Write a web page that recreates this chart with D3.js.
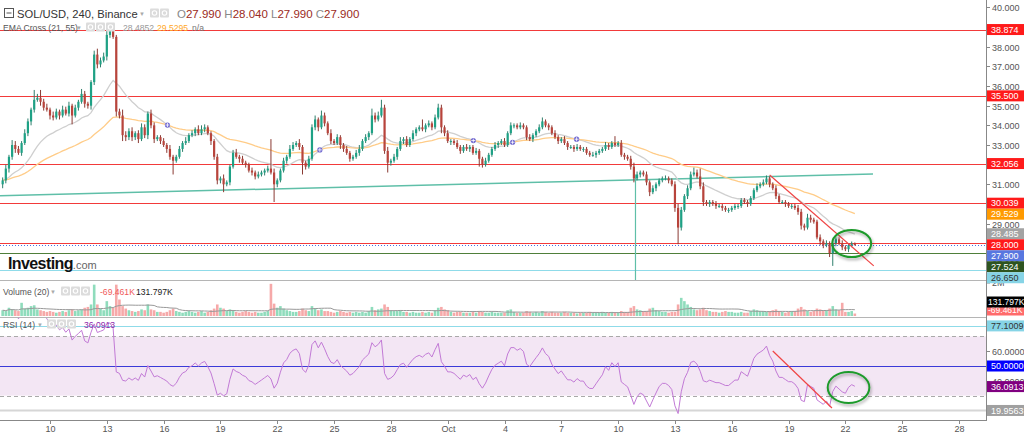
<!DOCTYPE html>
<html>
<head>
<meta charset="utf-8">
<script src="https://cdnjs.cloudflare.com/ajax/libs/d3/7.8.5/d3.min.js"></script>
<style>
  body { margin: 0; background: #fff; }
  svg { display: block; font-family: "Liberation Sans", Arial, sans-serif; }
</style>
</head>
<body>
<div id="chart"></div>
<script>
// SOL/USD 4h candles, Sep 7 12:00 -> Oct 22 12:00 (UTC), open = previous close
const closes = [
  31.2, 31.8, 32.4, 33.0, 32.8, 32.6, 33.1, 33.6, 34.2, 34.8,
  35.3, 35.4, 35.2, 34.9, 34.8, 34.5, 34.4, 34.7, 34.5, 34.8,
  34.6, 35.0, 34.5, 34.9, 35.2, 35.6, 35.1, 35.0, 36.2, 37.6,
  37.1, 37.3, 37.5, 38.6, 38.8, 38.5, 34.7, 34.5, 33.5, 33.4,
  33.7, 33.4, 33.6, 33.3, 33.9, 33.5, 34.6, 34.0, 33.3, 33.4,
  33.2, 33.0, 32.8, 32.4, 32.2, 32.4, 32.8, 33.1, 33.2, 33.5,
  33.6, 33.8, 33.6, 33.8, 33.9, 33.6, 33.2, 32.4, 31.2, 31.3,
  31.0, 31.1, 31.9, 32.6, 32.4, 32.3, 32.1, 32.0, 31.7, 31.6,
  31.4, 31.5, 31.6, 31.7, 31.8, 31.6, 31.0, 31.2, 31.7, 32.2,
  32.4, 32.8, 33.0, 33.1, 32.9, 32.1, 31.9, 32.3, 33.9, 34.3,
  33.9, 34.5, 34.1, 33.6, 33.2, 33.1, 33.4, 33.0, 32.8, 32.6,
  32.3, 32.4, 32.6, 32.8, 33.2, 33.4, 33.6, 34.5, 34.3, 34.5,
  34.9, 32.7, 32.1, 32.2, 32.4, 32.8, 33.2, 33.3, 33.0, 33.3,
  33.6, 33.8, 33.9, 33.8, 34.0, 34.1, 33.9, 34.4, 34.9, 33.9,
  33.6, 33.2, 33.2, 33.1, 32.9, 32.7, 32.9, 32.8, 32.9, 32.6,
  32.7, 32.3, 32.0, 32.2, 32.5, 32.8, 33.0, 33.1, 33.2, 33.0,
  33.6, 34.0, 34.0, 33.9, 34.0, 33.9, 33.4, 33.3, 33.5, 33.7,
  33.9, 34.2, 34.0, 33.9, 33.6, 33.4, 33.2, 33.3, 33.1, 32.9,
  32.9, 32.8, 32.9, 32.8, 32.8, 32.6, 32.5, 32.5, 32.6, 32.7,
  32.8, 33.0, 32.9, 33.1, 33.0, 33.1, 32.5, 32.4, 32.3, 31.9,
  31.3, 31.5, 31.6, 31.5, 31.1, 30.6, 30.8, 31.0, 31.2, 31.3,
  31.3, 31.2, 31.0, 29.8, 28.8, 29.7, 30.4, 30.8, 31.5, 31.6,
  31.4, 30.9, 30.1, 30.0, 30.1, 30.0, 29.9, 29.9, 29.8, 29.7,
  29.7, 29.8, 29.9, 29.9, 30.2, 30.1, 30.0, 30.3, 30.7, 30.9,
  31.0, 31.1, 31.3, 31.0, 30.8, 30.4, 30.1, 30.1, 30.0, 29.9,
  29.9, 29.8, 29.6, 28.9, 28.8, 29.3, 29.2, 29.1, 28.3, 28.1,
  27.9, 28.0, 27.5, 28.0, 28.2, 28.0, 27.8, 27.7, 27.9, 27.99,
  27.9
]
// wick length above / below the body
const wickHi = [
  .15,.2,.1,.25,.2,.15,.1,.2,.15,.1, .5,.2,.4,.15,.2,.1,.2,.15,.1,.2,
  .15,.2,.1,.15,.1,.25,.15,.1,.1,.2, .3,.15,.2,.25,.07,.1,.1,.15,.3,.2,
  .15,.2,.1,.15,.2,.15,.1,.2,.15,.1, .1,.15,.1,.2,.1,.1,.15,.1,.2,.1,
  .15,.1,.2,.2,.15,.1,.1,.1,.15,.1, .2,.1,.1,.15,.2,.1,.15,.1,.1,.15,
  .1,.15,.1,.1,.15,1.5,.2,.1,.1,.15, .1,.2,.15,.1,.2,.1,.1,.15,.15,.2,
  .1,.25,.15,.1,.2,.1,.15,.1,.1,.15, .1,.1,.15,.2,.1,.15,.1,.35,.15,.2,
  .4,.15,.2,.1,.15,.1,.2,.1,.15,.1, .15,.1,.1,.4,.1,.15,.1,.15,.2,.15,
  .1,.15,.1,.1,.15,.1,.1,.15,.1,.1, .15,.1,.1,.15,.1,.1,.15,.1,.1,.15,
  .1,.15,.1,.1,.15,.1,.1,.15,.1,.1, .15,.2,.1,.1,.1,.15,.1,.1,.15,.1,
  .1,.1,.15,.1,.1,.1,.1,.15,.1,.1, .1,.15,.1,.1,.35,.1,.15,.1,.1,.15,
  .2,.15,.1,.1,.15,.1,.15,.1,.1,.1, .15,.1,.1,.15,.2,.15,.1,.15,.15,.25,
  .15,.4,.2,.1,.1,.1,.15,.1,.1,.1, .1,.1,.1,.1,.1,.1,.1,.1,.1,.15,
  .1,.15,.15,.1,.1,.15,.1,.1,.1,.1, .1,.1,.15,.15,.1,.2,.15,.1,.1,.15,
  .1,.15,.1,.15,.1,.1,.15,.1,.1,.1, .05
]
const wickLo = [
  .2,.15,.2,.15,.2,.1,.15,.1,.15,.2, .15,.1,.2,.15,.1,.2,.15,.1,.2,.1,
  .1,.15,.45,.1,.15,.1,.2,.15,.2,.15, .2,.15,.1,.2,.15,.1,.25,.15,.3,.2,
  .15,.2,.15,.2,.1,.15,.2,.15,.2,.1, .15,.1,.2,.15,.7,.1,.1,.15,.1,.1,
  .1,.15,.1,.1,.15,.1,.2,.15,.2,.15, .4,.1,.15,.1,.1,.2,.1,.15,.1,.15,
  .15,.1,.1,.15,.1,.1,.9,.15,.1,.1, .15,.1,.1,.1,.15,.6,.15,.1,.1,.15,
  .2,.1,.15,.1,.15,.1,.1,.2,.15,.1, .15,.1,.1,.15,.1,.1,.15,.1,.15,.1,
  .1,.15,.5,.15,.1,.15,.1,.15,.1,.1, .1,.15,.1,.1,.15,.1,.15,.1,.1,.3,
  .15,.1,.2,.1,.1,.15,.1,.1,.15,.1, .1,.4,.15,.1,.1,.1,.1,.15,.1,.1,
  .1,.1,.15,.1,.1,.1,.15,.1,.15,.1, .1,.1,.1,.15,.1,.1,.15,.1,.1,.15,
  .1,.15,.1,.1,.15,.1,.1,.1,.15,.1, .1,.1,.15,.1,.1,.1,.1,.15,.1,.15,
  .2,.1,.15,.1,.15,.2,.1,.15,.1,.1, .1,.15,.1,.2,.85,.15,.1,.15,.1,.1,
  .1,.15,.2,.1,.15,.1,.15,.1,.15,.1, .15,.1,.1,.15,.1,.1,.15,.1,.1,.1,
  .1,.1,.1,.15,.1,.15,.1,.1,.15,.1, .15,.1,.15,.2,.15,.1,.15,.1,.1,.2,
  .15,.1,.2,.65,.15,.1,.15,.1,.15,.1, 0
]
// volume in thousands
const volumes = [
  350,300,500,400,350,300,800,450,500,600, 650,400,350,300,250,300,250,200,250,300,
  250,350,400,300,350,400,500,550,700,1900, 700,450,350,900,600,500,1900,1000,600,450,
  350,300,250,300,400,350,700,400,350,250, 250,200,250,350,450,300,250,200,250,300,
  250,200,250,300,200,250,350,450,700,500, 450,300,400,350,250,200,250,300,250,200,
  250,200,200,250,300,1950,750,500,600,450, 350,300,250,250,300,450,350,300,600,450,
  350,400,300,300,250,200,250,300,250,200, 250,200,250,200,250,200,300,550,350,400,
  450,700,550,350,300,300,350,250,250,200, 250,200,200,250,200,250,200,350,500,550,
  400,350,250,200,250,250,200,200,200,250, 200,300,250,200,200,250,200,200,200,200,
  350,400,250,200,200,200,300,250,200,250, 200,300,250,200,250,200,200,200,250,200,
  200,200,150,200,200,200,250,200,200,200, 250,200,200,250,200,200,300,250,250,500,
  600,400,350,300,300,450,500,350,300,250, 250,200,250,250,700,1100,900,700,550,400,
  350,400,500,350,300,250,250,200,250,300, 250,250,200,200,250,200,200,300,400,350,
  300,300,250,300,350,400,300,250,200,250, 300,300,450,550,400,300,250,300,450,400,
  350,350,450,600,400,350,800,250,250,300, 150
]

// horizontal levels drawn on the price pane
const redLevels = [38.874, 35.5, 32.056, 30.039, 28.0]
const greenLevel = 27.524
const cyanLevel = 26.65
const lastPrice = 27.9
const emaLast = [28.4852, 29.5295]
const ohlcText = ["27.990", "28.040", "27.990", "27.900"]
const volText = ["-69.461K", "131.797K"]
const rsiLast = 36.0913
const rsiLevels = [77.1009, 50, 19.9563]
const priceTicks = d3.range(27, 41, 1)
const rsiTicks = [40, 60]

// drawings (time, value)
const teal = [["2022-09-07T08:40Z", 30.42], ["2022-10-23T11:00Z", 31.525]]
const redTrend = [["2022-10-18T00:00Z", 31.47], ["2022-10-23T12:00Z", 26.85]]
const rsiTrend = [["2022-10-18T04:00Z", 60.1], ["2022-10-21T07:00Z", 21.6]]
const vLine = ["2022-10-10T22:00Z", 31.5]
const ellipseMain = {t: "2022-10-22T08:00Z", v: 27.99, dt: 1.03, dv: 0.69}
const ellipseRsi = {t: "2022-10-22T04:00Z", v: 35.5, dt: 1.1, dv: 10.5}

const WIDTH = 1024, HEIGHT = 433
const AXIS_X = 986
const MAIN = {TOP: 0, BOTTOM: 280}
const VOL = {TOP: 281, BOTTOM: 316}
const RSI = {TOP: 318, BOTTOM: 420}

const UP = "#1ea185", DOWN = "#b8443c"

const t0 = Date.UTC(2022, 8, 7, 12)
const H4 = 4 * 3600e3
const candles = closes.map((c, i) => {
    const o = i === 0 ? 31.0 : closes[i - 1]
    return {
        date: new Date(t0 + i * H4), o, c,
        h: Math.max(o, c) + wickHi[i],
        l: Math.min(o, c) - wickLo[i],
        v: volumes[i]
    }
})

const x = d3.scaleUtc()
    .domain([new Date(Date.UTC(2022, 8, 10)), new Date(Date.UTC(2022, 9, 28))])
    .range([50, 959])
const y = d3.scaleLinear().domain([26, 40]).range([282.6, 7.4])
const yVol = d3.scaleLinear().domain([0, 2000]).range([VOL.BOTTOM, 283])
const yRsi = d3.scaleLinear().domain([20, 80]).range([410.4, 321.6])

const svg = d3.select("#chart").append("svg")
    .attr("width", WIDTH).attr("height", HEIGHT)
svg.append("rect").attr("width", WIDTH).attr("height", HEIGHT).attr("fill", "#fff")

const defs = svg.append("defs")
const clip = (id, top, bottom) => defs.append("clipPath").attr("id", id)
    .append("rect").attr("x", 0).attr("y", top).attr("width", AXIS_X).attr("height", bottom - top)
clip("cMain", MAIN.TOP, MAIN.BOTTOM)
clip("cVol", VOL.TOP, VOL.BOTTOM)
clip("cRsi", RSI.TOP, RSI.BOTTOM)
const shadow = defs.append("filter").attr("id", "shadow")
    .attr("x", "-30%").attr("y", "-30%").attr("width", "160%").attr("height", "160%")
shadow.append("feDropShadow").attr("dx", 1).attr("dy", 2).attr("stdDeviation", 1.5)
    .attr("flood-color", "#000").attr("flood-opacity", 0.35)

// ---------- indicators ----------
function ema(vals, n) {
    const a = 2 / (n + 1)
    const out = []
    vals.forEach((v, i) => out.push(i === 0 ? v : a * v + (1 - a) * out[i - 1]))
    return out
}
function rsi(vals, n) {
    const out = [null]
    let ag = 0, al = 0
    for (let i = 1; i < vals.length; i++) {
        const ch = vals[i] - vals[i - 1]
        const k = Math.min(i, n)
        ag = (ag * (k - 1) + Math.max(ch, 0)) / k
        al = (al * (k - 1) + Math.max(-ch, 0)) / k
        out.push(al === 0 ? 100 : 100 - 100 / (1 + ag / al))
    }
    return out
}
const ema21 = ema(closes, 21)
const ema55 = ema(closes, 55)
const rsi14 = rsi(closes, 14)
const volMa = volumes.map((v, i) => d3.mean(volumes.slice(Math.max(0, i - 19), i + 1)))

// ---------- panes ----------
const main = svg.append("g").attr("clip-path", "url(#cMain)")
const vol = svg.append("g").attr("clip-path", "url(#cVol)")
const rsiG = svg.append("g").attr("clip-path", "url(#cRsi)")

const hLine = (g, yy, color, w = 1) => g.append("line").attr("x1", 0).attr("x2", AXIS_X)
    .attr("y1", Math.round(yy) + 0.5).attr("y2", Math.round(yy) + 0.5)
    .attr("stroke", color).attr("stroke-width", w)

// horizontal levels
redLevels.forEach(p => hLine(main, y(p), "#f23a3a"))
hLine(main, y(lastPrice), "#4a6fe3").attr("stroke-dasharray", "1,2")
hLine(main, y(greenLevel), "#4f7f3a")
hLine(main, y(cyanLevel), "#8fdbe9")

// teal trend line and vertical line
main.append("line")
    .attr("x1", x(new Date(teal[0][0]))).attr("y1", y(teal[0][1]))
    .attr("x2", x(new Date(teal[1][0]))).attr("y2", y(teal[1][1]))
    .attr("stroke", "#5fbfa8").attr("stroke-width", 1.5)
main.append("line")
    .attr("x1", x(new Date(vLine[0]))).attr("x2", x(new Date(vLine[0])))
    .attr("y1", y(vLine[1])).attr("y2", MAIN.BOTTOM)
    .attr("stroke", "#5fbfa8").attr("stroke-width", 1.2)

// EMA lines
const lineP = vals => d3.line().x((d, i) => x(candles[i].date)).y(d => y(d))(vals)
main.append("path").attr("d", lineP(ema21)).attr("fill", "none")
    .attr("stroke", "#cfcfcf").attr("stroke-width", 1.3)
main.append("path").attr("d", lineP(ema55)).attr("fill", "none")
    .attr("stroke", "#ffcc88").attr("stroke-width", 1.3)

// candles
const bodyW = 2.2
const cg = main.append("g")
cg.selectAll("line.wick").data(candles).enter().append("line")
    .attr("x1", d => x(d.date)).attr("x2", d => x(d.date))
    .attr("y1", d => y(d.h)).attr("y2", d => y(d.l))
    .attr("stroke", d => d.c >= d.o ? "#2f7f6c" : "#8a3a33").attr("stroke-width", 1)
cg.selectAll("rect.body").data(candles).enter().append("rect")
    .attr("x", d => x(d.date) - bodyW / 2).attr("width", bodyW)
    .attr("y", d => y(Math.max(d.o, d.c)))
    .attr("height", d => Math.max(1, Math.abs(y(d.o) - y(d.c))))
    .attr("fill", d => d.c >= d.o ? UP : DOWN)

// EMA cross markers
for (let i = 1; i < closes.length; i++) {
    const a = ema21[i - 1] - ema55[i - 1], b = ema21[i] - ema55[i]
    if (i > 3 && a * b < 0) {
        const f = a / (a - b)
        const cx = x(candles[i - 1].date) + f * (x(candles[i].date) - x(candles[i - 1].date))
        const cy = y(ema21[i - 1] + f * (ema21[i] - ema21[i - 1]))
        main.append("circle").attr("cx", cx).attr("cy", cy).attr("r", 2.6).attr("fill", "#7068d0")
        main.append("path").attr("d", `M${cx - 2},${cy}H${cx + 2}M${cx},${cy - 2}V${cy + 2}`)
            .attr("stroke", "#fff").attr("stroke-width", 0.8)
    }
}

// red descending trend line
main.append("line")
    .attr("x1", x(new Date(redTrend[0][0]))).attr("y1", y(redTrend[0][1]))
    .attr("x2", x(new Date(redTrend[1][0]))).attr("y2", y(redTrend[1][1]))
    .attr("stroke", "#f04545").attr("stroke-width", 1.2)

function drawEllipse(g, e, ys) {
    const cx = x(new Date(e.t))
    const rx = x(new Date(+new Date(e.t) + e.dt * 864e5)) - cx
    g.append("ellipse").attr("cx", cx).attr("cy", ys(e.v))
        .attr("rx", rx).attr("ry", Math.abs(ys(e.v + e.dv) - ys(e.v)))
        .attr("fill", "none").attr("stroke", "#1e9a2c").attr("stroke-width", 2)
        .attr("filter", "url(#shadow)")
}
drawEllipse(main, ellipseMain, y)

// logo
const logo = svg.append("text").attr("x", 8).attr("y", 269)
logo.append("tspan").text("Investing").attr("font-size", 16).attr("font-weight", "bold")
    .attr("fill", "#111").attr("letter-spacing", -0.6)
logo.append("tspan").text(".com").attr("font-size", 11).attr("fill", "#666")

// ---------- volume ----------
vol.selectAll("rect").data(candles).enter().append("rect")
    .attr("x", d => x(d.date) - 1.3).attr("width", 2.6)
    .attr("y", d => yVol(d.v)).attr("height", d => VOL.BOTTOM - yVol(d.v))
    .attr("fill", d => d.c >= d.o ? "#8fdcbc" : "#f6a9a9")
vol.append("path")
    .attr("d", d3.line().x((d, i) => x(candles[i].date)).y(d => yVol(d))(volMa))
    .attr("fill", "none").attr("stroke", "#999").attr("stroke-width", 1)

// ---------- RSI ----------
rsiG.append("rect").attr("x", 0).attr("width", AXIS_X)
    .attr("y", yRsi(70)).attr("height", yRsi(30) - yRsi(70)).attr("fill", "#f3e6f4")
;[70, 30].forEach(v => hLine(rsiG, yRsi(v), "#a9a9a9").attr("stroke-dasharray", "4,3"))
hLine(rsiG, yRsi(rsiLevels[0]), "#8fdbe9")
hLine(rsiG, yRsi(rsiLevels[1]), "#3a3ad8")
rsiG.append("line").attr("x1", 0).attr("x2", AXIS_X)
    .attr("y1", yRsi(rsiLevels[2])).attr("y2", yRsi(rsiLevels[2]))
    .attr("stroke", "#d6d6d6").attr("stroke-width", 2)
rsiG.append("path")
    .attr("d", d3.line().defined(d => d != null)
        .x((d, i) => x(candles[i].date)).y(d => yRsi(d))(rsi14.map((d, i) => i < 2 ? null : d)))
    .attr("fill", "none").attr("stroke", "#c27ad6").attr("stroke-width", 1)
rsiG.append("line")
    .attr("x1", x(new Date(rsiTrend[0][0]))).attr("y1", yRsi(rsiTrend[0][1]))
    .attr("x2", x(new Date(rsiTrend[1][0]))).attr("y2", yRsi(rsiTrend[1][1]))
    .attr("stroke", "#f04545").attr("stroke-width", 1.2)
drawEllipse(rsiG, ellipseRsi, yRsi)

// ---------- frames and axes ----------
const frame = svg.append("g").attr("stroke", "#b5b5b5").attr("fill", "none")
frame.append("line").attr("x1", 0).attr("x2", AXIS_X).attr("y1", MAIN.BOTTOM + 0.5).attr("y2", MAIN.BOTTOM + 0.5)
frame.append("line").attr("x1", 0).attr("x2", AXIS_X).attr("y1", VOL.BOTTOM + 1.5).attr("y2", VOL.BOTTOM + 1.5)
svg.append("line").attr("x1", AXIS_X + 0.5).attr("x2", AXIS_X + 0.5).attr("y1", 0).attr("y2", RSI.BOTTOM + 1)
    .attr("stroke", "#888")
svg.append("line").attr("x1", 0).attr("x2", AXIS_X + 1).attr("y1", RSI.BOTTOM + 0.5).attr("y2", RSI.BOTTOM + 0.5)
    .attr("stroke", "#888")

const LABEL_FONT = 9
const fmt3 = d3.format(".3f"), fmt4 = d3.format(".4f")
const axisText = (g, yy, txt) => {
    g.append("line").attr("x1", AXIS_X).attr("x2", AXIS_X + 4).attr("y1", yy).attr("y2", yy).attr("stroke", "#888")
    g.append("text").attr("x", AXIS_X + 6).attr("y", yy + 3.2).attr("font-size", LABEL_FONT).attr("fill", "#555").text(txt)
}
const ax = svg.append("g")
priceTicks.forEach(p => axisText(ax, Math.round(y(p)) + 0.5, fmt3(p)))
axisText(ax, yVol(2000), "2M")
rsiTicks.forEach(v => axisText(ax, Math.round(yRsi(v)) + 0.5, fmt4(v)))

// x axis
const xTicks = d3.utcDay.range(new Date(Date.UTC(2022, 8, 10)), new Date(Date.UTC(2022, 9, 29)), 3)
const xg = svg.append("g")
xTicks.forEach(d => {
    const xx = Math.round(x(d)) + 0.5
    xg.append("line").attr("x1", xx).attr("x2", xx).attr("y1", RSI.BOTTOM).attr("y2", RSI.BOTTOM + 4).attr("stroke", "#888")
    xg.append("text").attr("x", xx).attr("y", 431.5).attr("text-anchor", "middle")
        .attr("font-size", LABEL_FONT).attr("fill", "#555")
        .text(d.getUTCDate() === 1 ? d3.utcFormat("%b")(d) : d.getUTCDate())
})

// price labels, pushed down when they collide
function labels(list, ys) {
    list.sort((a, b) => ys(a.v) - ys(b.v))
    let prev = -Infinity
    list.forEach(l => {
        const pos = Math.max(ys(l.v), prev + 11)
        prev = pos
        const g = svg.append("g")
        g.append("rect").attr("x", AXIS_X + 1).attr("y", pos - 5.5).attr("width", 37).attr("height", 11).attr("fill", l.bg)
        g.append("text").attr("x", AXIS_X + 5).attr("y", pos + 3.2).attr("font-size", LABEL_FONT).attr("fill", l.fg).text(l.t)
    })
}
labels([
    ...redLevels.map(v => ({v, t: fmt3(v), bg: "#ff1a1a", fg: "#fff"})),
    {v: emaLast[1], t: fmt3(emaLast[1]), bg: "#ff9a00", fg: "#fff"},
    {v: emaLast[0], t: fmt3(emaLast[0]), bg: "#a3a3a3", fg: "#fff"},
    {v: lastPrice, t: fmt3(lastPrice), bg: "#5877e0", fg: "#fff"},
    {v: greenLevel, t: fmt3(greenLevel), bg: "#2e5420", fg: "#fff"},
    {v: cyanLevel, t: fmt3(cyanLevel), bg: "#86d4e6", fg: "#333"}
], y)
labels([
    {v: rsiLevels[0], t: fmt4(rsiLevels[0]), bg: "#86d4e6", fg: "#333"},
    {v: rsiLevels[1], t: fmt4(rsiLevels[1]), bg: "#0000ff", fg: "#fff"},
    {v: rsiLast, t: fmt4(rsiLast), bg: "#800080", fg: "#fff"},
    {v: rsiLevels[2], t: fmt4(rsiLevels[2]), bg: "#a0a0a0", fg: "#fff"}
], yRsi)
// volume labels sit at the bottom of their pane
;[[volText[0], "#ff6b6b", VOL.BOTTOM - 6], [volText[1], "#000", VOL.BOTTOM - 14]].forEach(([t, bg, pos]) => {
    svg.append("rect").attr("x", AXIS_X + 1).attr("y", pos - 5.5).attr("width", 37).attr("height", 11).attr("fill", bg)
    svg.append("text").attr("x", AXIS_X + 2).attr("y", pos + 3.2).attr("font-size", 8.5).attr("fill", "#fff").text(t)
})

// ---------- legends ----------
function icons(g, x0, yy, n, s = 9) {
    for (let i = 0; i < n; i++) {
        g.append("rect").attr("x", x0 + i * (s + 1)).attr("y", yy - s / 2).attr("width", s).attr("height", s)
            .attr("fill", "#dcdcdc").attr("rx", 1)
        g.append("circle").attr("cx", x0 + i * (s + 1) + s / 2).attr("cy", yy).attr("r", s / 4)
            .attr("fill", "none").attr("stroke", "#fff").attr("stroke-width", 1.1)
    }
}
const lg = svg.append("g")
lg.append("rect").attr("x", 4.5).attr("y", 8.5).attr("width", 9).attr("height", 9)
    .attr("fill", "#fff").attr("stroke", "#555")
lg.append("line").attr("x1", 6.5).attr("x2", 11.5).attr("y1", 13).attr("y2", 13).attr("stroke", "#555")
lg.append("text").attr("x", 17).attr("y", 17.5).attr("font-size", 11.2).attr("fill", "#333")
    .text("SOL/USD, 240, Binance")
lg.append("text").attr("x", 139).attr("y", 15.5).attr("font-size", 6).attr("fill", "#aaa").text("▼")
icons(lg, 150, 13, 2)
const ohlc = lg.append("text").attr("x", 177).attr("y", 17.5).attr("font-size", 11.5)
;["O", "H", "L", "C"].forEach((k, i) => {
    ohlc.append("tspan").text((i ? " " : "") + k).attr("fill", "#888")
    ohlc.append("tspan").text(ohlcText[i]).attr("fill", "#9b2a22")
})

const el = svg.append("g").attr("font-size", 8.6)
el.append("text").attr("x", 3).attr("y", 30.5).attr("fill", "#555").text("EMA Cross (21, 55)")
el.append("text").attr("x", 76).attr("y", 29.5).attr("font-size", 6).attr("fill", "#aaa").text("▼")
icons(el, 86, 27, 3)
el.append("text").attr("x", 123).attr("y", 30.5).attr("fill", "#999").text(fmt4(emaLast[0]))
el.append("text").attr("x", 157).attr("y", 30.5).attr("fill", "#ffa726").text(fmt4(emaLast[1]))
el.append("text").attr("x", 192).attr("y", 30.5).attr("fill", "#777").text("n/a")

const vl = svg.append("g").attr("font-size", 8.6)
vl.append("text").attr("x", 3).attr("y", 294.5).attr("fill", "#555").text("Volume (20)")
vl.append("text").attr("x", 50).attr("y", 293.5).attr("font-size", 6).attr("fill", "#aaa").text("▼")
icons(vl, 61, 291, 3)
vl.append("text").attr("x", 100).attr("y", 294.5).attr("fill", "#f05a5a").text(volText[0])
vl.append("text").attr("x", 136).attr("y", 294.5).attr("fill", "#222").text(volText[1])

const rl = svg.append("g").attr("font-size", 8.6)
rl.append("text").attr("x", 3).attr("y", 327.5).attr("fill", "#555").text("RSI (14)")
rl.append("text").attr("x", 37).attr("y", 326.5).attr("font-size", 6).attr("fill", "#aaa").text("▼")
icons(rl, 47, 324, 3)
rl.append("text").attr("x", 84).attr("y", 327.5).attr("fill", "#8e24aa").text(fmt4(rsiLast))
</script>
</body>
</html>
